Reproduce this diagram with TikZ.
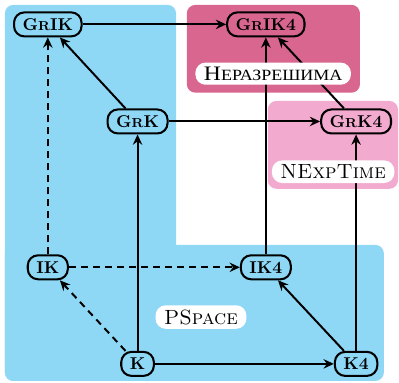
\documentclass[tikz,border=0pt]{standalone}
\usepackage{fontspec}
\newfontfamily\cyrfont[FakeStretch=1.15]{Liberation Serif}
\usepackage{tikz}
\usetikzlibrary{
  % Stealth tips with a set size
  arrows.meta,%
  positioning%
}
\definecolor{pspacecol}{RGB}{142,216,246}
\definecolor{undeccol}{RGB}{216,102,142}
\definecolor{nexpcol}{RGB}{242,170,206}
% small capitals faked by size, for fonts that have none
\makeatletter
\newcommand{\fsc}[1]{{\fontsize{\fpeval{0.76*\f@size}pt}{0pt}\selectfont #1}}
\makeatother
\tikzset{>={Stealth[length=6pt, width=5.5pt, inset=2pt]}}
\tikzset{logic/.style={draw, very thick, rounded corners=6pt, font=\bfseries,
    inner xsep=5pt, inner ysep=3.5pt, text height=7pt, text depth=0pt}}
\tikzset{cls/.style={fill=white, rounded corners=6pt, font=\large,
    inner xsep=5pt, inner ysep=2.5pt}}
\tikzset{incl/.style={->, line width=1.15pt}}
\tikzset{maybe/.style={dash pattern=on 4pt off 3pt}}

\begin{document}
\begin{tikzpicture}
  \useasboundingbox (0,0) rectangle (8.18,7.85);
  % complexity regions
  \fill[pspacecol, rounded corners=5pt] (0.10,0.04) rectangle (3.61,7.75);
  \fill[pspacecol, rounded corners=5pt] (0.10,0.04) rectangle (7.87,2.83);
  \fill[undeccol, rounded corners=5pt] (3.83,5.95) rectangle (7.38,7.75);
  \fill[nexpcol, rounded corners=5pt] (5.49,3.98) rectangle (8.16,5.78);

  \node[logic] (grik)  at (0.98,7.35) {G\fsc{R}IK};
  \node[logic] (grik4) at (5.45,7.35) {G\fsc{R}IK4};
  \node[logic] (grk)   at (2.82,5.36) {G\fsc{R}K};
  \node[logic] (grk4)  at (7.30,5.36) {G\fsc{R}K4};
  \node[logic] (ik)    at (0.98,2.37) {IK};
  \node[logic] (ik4)   at (5.45,2.37) {IK4};
  \node[logic] (k)     at (2.82,0.39) {K};
  \node[logic] (k4)    at (7.30,0.39) {K4};

  \draw[incl] (grik) -- (grik4);
  \draw[incl] (grk) -- (grik);
  \draw[incl] (grk) -- (grk4);
  \draw[incl] (grk4) -- (grik4);
  \draw[incl] (ik4) -- (grik4);
  \draw[incl] (k) -- (grk);
  \draw[incl] (k) -- (k4);
  \draw[incl] (k4) -- (ik4);
  \draw[incl] (k4) -- (grk4);
  \draw[incl, maybe] (ik) -- (grik);
  \draw[incl, maybe] (ik) -- (ik4);
  \draw[incl, maybe] (k) -- (ik);

  \node[cls] (undec)  at (5.60,6.34) {\cyrfont Н\fsc{ЕРАЗРЕШИМА}};
  \node[cls] (nexp)   at (6.83,4.33) {\textsc{NExpTime}};
  \node[cls] (pspace) at (4.12,1.35) {\textsc{PSpace}};
\end{tikzpicture}
\end{document}
